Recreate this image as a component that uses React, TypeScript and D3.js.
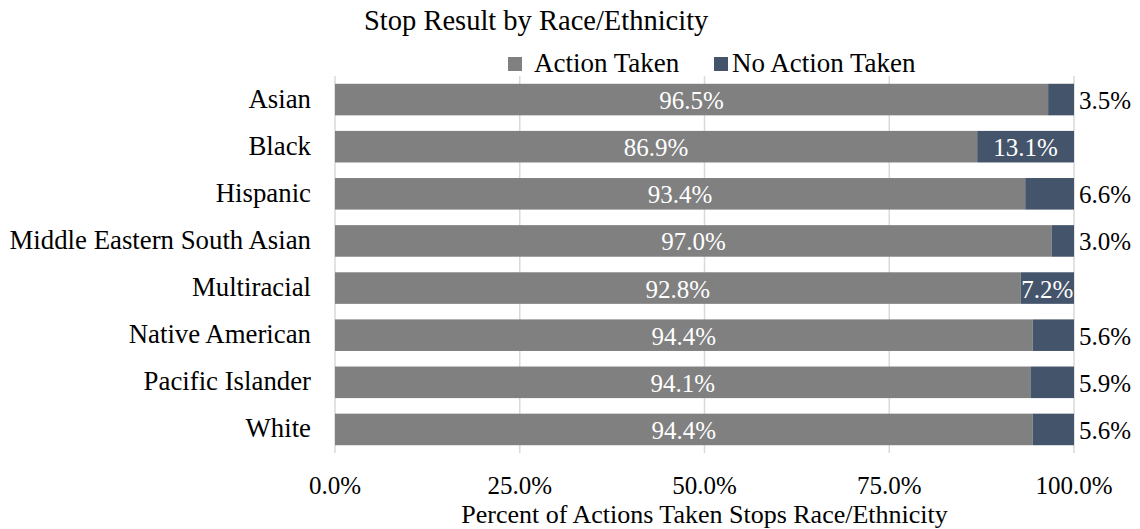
import React from "react";
import * as d3 from "d3";

const categories = [
  "Asian",
  "Black",
  "Hispanic",
  "Middle Eastern South Asian",
  "Multiracial",
  "Native American",
  "Pacific Islander",
  "White",
];
const actionTaken = [96.5, 86.9, 93.4, 97.0, 92.8, 94.4, 94.1, 94.4];
const noActionTaken = [3.5, 13.1, 6.6, 3.0, 7.2, 5.6, 5.9, 5.6];
const seriesNames = ["Action Taken", "No Action Taken"];
const xTicks = [0, 25, 50, 75, 100];

const W = 1140;
const H = 529;
const FONT = "'Liberation Serif', 'Times New Roman', Times, serif";
const COLORS = ["#808080", "#44546A"];

export default function App() {
  const x = d3.scaleLinear().domain([0, 100]).range([335, 1074]);
  const y = d3
    .scaleBand<string>()
    .domain(categories)
    .range([76, 453])
    .paddingInner(0.33)
    .paddingOuter(0.165);
  const bw = y.bandwidth();
  const txt = { fontFamily: FONT };

  return (
    <svg
      width={W}
      height={H}
      style={{ position: "absolute", left: 0, top: 0, fontFamily: FONT }}
    >
      <rect width={W} height={H} fill="#ffffff" />
      <text x={364} y={30} fontSize={28.5} fill="#000" style={txt}>
        Stop Result by Race/Ethnicity
      </text>
      {/* legend */}
      <rect x={508} y={57} width={14} height={14} fill={COLORS[0]} />
      <text x={534} y={72} fontSize={27} fill="#000" style={txt}>
        {seriesNames[0]}
      </text>
      <rect x={714} y={57} width={14} height={14} fill={COLORS[1]} />
      <text x={732} y={72} fontSize={27} fill="#000" style={txt}>
        {seriesNames[1]}
      </text>
      {/* gridlines */}
      {xTicks.map((t) => (
        <line
          key={t}
          x1={x(t)}
          x2={x(t)}
          y1={76}
          y2={453}
          stroke="#d9d9d9"
          strokeWidth={1.5}
        />
      ))}
      {/* bars */}
      {categories.map((c, i) => {
        const y0 = y(c)!;
        const a = actionTaken[i];
        const n = noActionTaken[i];
        const inside = n > 7;
        return (
          <g key={c}>
            <rect x={x(0)} y={y0} width={x(a) - x(0)} height={bw} fill={COLORS[0]} />
            <rect x={x(a)} y={y0} width={x(100) - x(a)} height={bw} fill={COLORS[1]} />
            <text
              x={(x(0) + x(a)) / 2}
              y={y0 + bw / 2}
              dy="0.38em"
              textAnchor="middle"
              fontSize={25}
              fill="#ffffff"
              style={txt}
            >
              {a.toFixed(1)}%
            </text>
            <text
              x={inside ? (x(a) + x(100)) / 2 : x(100) + 5}
              y={y0 + bw / 2}
              dy="0.38em"
              textAnchor={inside ? "middle" : "start"}
              fontSize={25}
              fill={inside ? "#ffffff" : "#000000"}
              style={txt}
            >
              {n.toFixed(1)}%
            </text>
            <text
              x={311}
              y={y0 + bw / 2}
              dy="0.3em"
              textAnchor="end"
              fontSize={26.8}
              fill="#000"
              style={txt}
            >
              {c}
            </text>
          </g>
        );
      })}
      {/* x tick labels */}
      {xTicks.map((t) => (
        <text
          key={t}
          x={x(t)}
          y={494}
          textAnchor="middle"
          fontSize={25}
          fill="#000"
          style={txt}
        >
          {t.toFixed(1)}%
        </text>
      ))}
      <text
        x={(x(0) + x(100)) / 2}
        y={523}
        textAnchor="middle"
        fontSize={26}
        fill="#000"
        style={txt}
      >
        Percent of Actions Taken Stops Race/Ethnicity
      </text>
    </svg>
  );
}
